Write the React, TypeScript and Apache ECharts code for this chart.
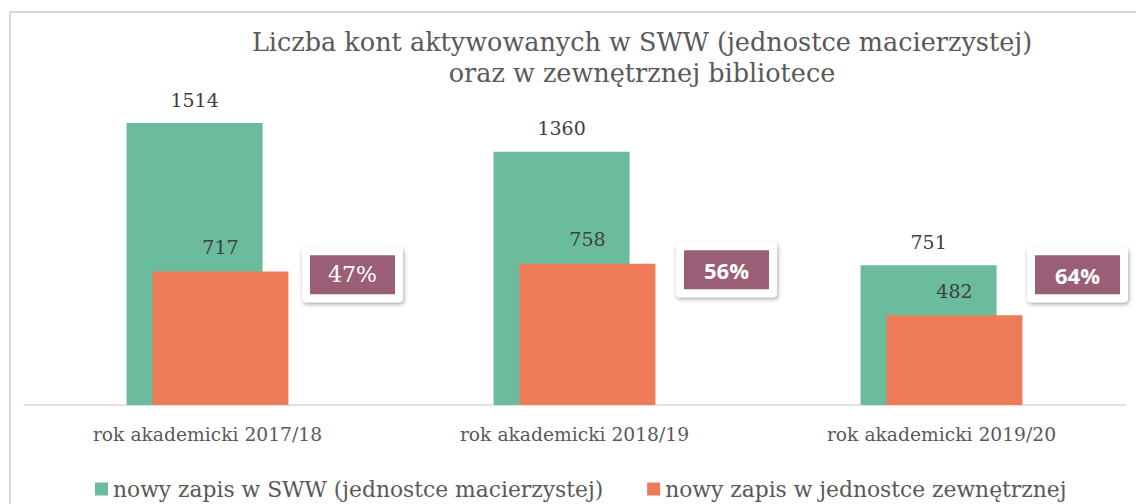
import React, { useEffect, useRef } from "react";
import * as echarts from "echarts";

const categories = ["rok akademicki 2017/18", "rok akademicki 2018/19", "rok akademicki 2019/20"];
const swwValues = [1514, 1360, 751];
const externalValues = [717, 758, 482];
const seriesNames = ["nowy zapis w SWW (jednostce macierzystej)", "nowy zapis w jednostce zewnętrznej"];
const titleLines = ["Liczba kont aktywowanych w SWW (jednostce macierzystej)", "oraz w zewnętrznej bibliotece"];

const SERIF = "'DejaVu Serif', serif";
const SANS = "'Open Sans', sans-serif";
const GREEN = "#6bbc9c";
const ORANGE = "#ed7b58";
const PURPLE = "#9a5f76";

export default function App() {
  const ref = useRef<HTMLDivElement>(null);
  useEffect(() => {
    document.body.style.margin = "0";
    const chart = echarts.init(ref.current!, null, { renderer: "svg" });
    const percents = externalValues.map((v, i) => Math.round((v / swwValues[i]) * 100));
    const boxOffsets = [[145, 0], [152, -5], [136, 0]];
    const boxFonts = [
      { fontFamily: SERIF, fontWeight: "normal" as const },
      { fontFamily: SANS, fontWeight: "bold" as const },
      { fontFamily: SANS, fontWeight: "bold" as const },
    ];
    chart.setOption({
      animation: false,
      graphic: [
        {
          type: "rect",
          shape: { x: 10, y: 12, width: 1300, height: 700 },
          style: { fill: "none", stroke: "#d9d9d9", lineWidth: 2 },
          silent: true,
        },
        ...titleLines.map((t, i) => ({
          type: "text",
          x: 642,
          y: 42 + i * 31,
          style: {
            text: t,
            textAlign: "center",
            textVerticalAlign: "middle",
            fill: "#595959",
            font: `25.5px ${SERIF}`,
          },
        })),
      ],
      grid: { left: 24, right: 11, top: 107, bottom: 99 },
      xAxis: {
        type: "category",
        data: categories,
        axisLine: { lineStyle: { color: "#d9d9d9", width: 1.5 } },
        axisTick: { show: false },
        axisLabel: { color: "#595959", fontSize: 18.7, fontFamily: SERIF, margin: 20 },
      },
      yAxis: { type: "value", min: 0, max: 1600, show: false, splitLine: { show: false } },
      legend: {
        left: 95,
        top: 478,
        padding: 0,
        itemWidth: 13,
        itemHeight: 13,
        itemGap: 44,
        icon: "rect",
        textStyle: { color: "#595959", fontSize: 21.8, fontFamily: SERIF },
        data: seriesNames,
      },
      series: [
        {
          name: seriesNames[0],
          type: "bar",
          data: swwValues,
          barWidth: 136,
          barGap: "-81%",
          itemStyle: { color: GREEN },
          label: { show: true, position: "top", distance: 14, color: "#404040", fontSize: 19, fontFamily: SERIF },
        },
        {
          name: seriesNames[1],
          type: "bar",
          data: externalValues,
          barWidth: 136,
          barGap: "-81%",
          itemStyle: { color: ORANGE },
          label: { show: true, position: "top", distance: 15, color: "#404040", fontSize: 19, fontFamily: SERIF },
        },
        {
          type: "scatter",
          symbolSize: 0,
          silent: true,
          itemStyle: { opacity: 1 },
          data: percents.map((p, i) => ({
            value: [i, 700],
            label: {
              offset: boxOffsets[i],
              rich: {
                a: {
                  width: 85,
                  height: 39,
                  align: "center",
                  backgroundColor: PURPLE,
                  color: "#fff",
                  fontSize: 22,
                  ...boxFonts[i],
                },
              },
            },
          })),
          label: {
            show: true,
            position: "inside",
            opacity: 1,
            formatter: (p: any) => `{a|${percents[p.dataIndex]}%}`,
            backgroundColor: "#fff",
            padding: 8,
            borderRadius: 4,
            shadowColor: "rgba(0,0,0,0.35)",
            shadowBlur: 4,
            shadowOffsetX: 1,
            shadowOffsetY: 2,
          },
        },
      ],
    });
    return () => chart.dispose();
  }, []);
  return <div ref={ref} style={{ width: 1136, height: 504 }} />;
}
